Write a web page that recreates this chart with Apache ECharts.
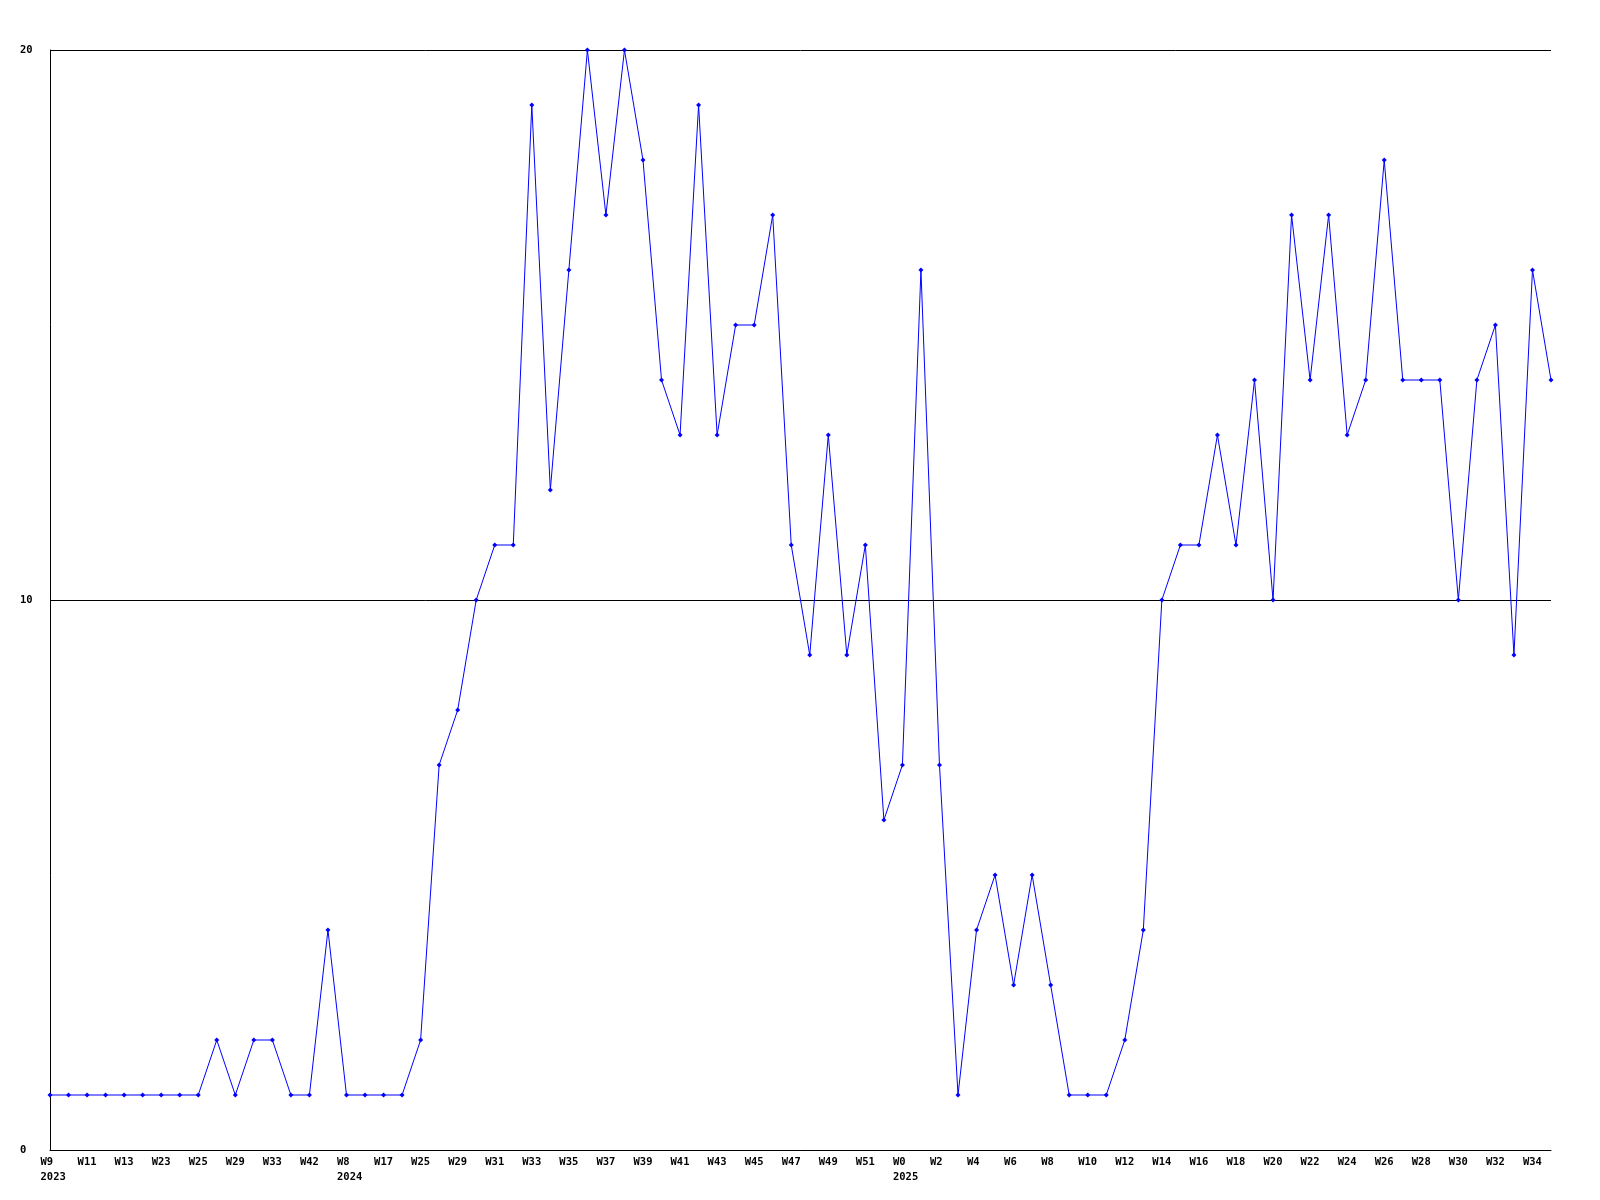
<!DOCTYPE html>
<html>
<head>
<meta charset="utf-8">
<script src="https://cdn.jsdelivr.net/npm/echarts@6/dist/echarts.min.js"></script>
<style>
html,body{margin:0;padding:0;background:#fff;}
#chart{width:1600px;height:1200px;}
</style>
</head>
<body>
<div id="chart"></div>
<script>
const weeks = [
  'W9','W10','W11','W12','W13','W22','W23','W24','W25','W27',
  'W29','W31','W33','W37','W42','W50','W8','W12','W17','W21',
  'W25','W27','W29','W30','W31','W32','W33','W34','W35','W36',
  'W37','W38','W39','W40','W41','W42','W43','W44','W45','W46',
  'W47','W48','W49','W50','W51','W52','W0','W1','W2','W3',
  'W4','W5','W6','W7','W8','W9','W10','W11','W12','W13',
  'W14','W15','W16','W17','W18','W19','W20','W21','W22','W23',
  'W24','W25','W26','W27','W28','W29','W30','W31','W32','W33',
  'W34','W35'
];
const yearLabels = {0:'2023', 16:'2024', 46:'2025'};
const values = [
  1,1,1,1,1,1,1,1,1,2,
  1,2,2,1,1,4,1,1,1,1,
  2,7,8,10,11,11,19,12,16,20,
  17,20,18,14,13,19,13,15,15,17,
  11,9,13,9,11,6,7,16,7,1,
  4,5,3,5,3,1,1,1,2,4,
  10,11,11,13,11,14,10,17,14,17,
  13,14,18,14,14,14,10,14,15,9,
  16,14
];
const yTicks = [0, 10, 20];

const font = 'DejaVu Sans Mono';
const chart = echarts.init(document.getElementById('chart'), null, {renderer:'canvas'});
chart.setOption({
  animation: false,
  backgroundColor: '#ffffff',
  grid: {left: 50, right: 49, top: 50, bottom: 50, containLabel: false},
  xAxis: {
    type: 'category',
    data: weeks,
    boundaryGap: false,
    axisLine: {show: true, lineStyle: {color: '#000', width: 1}},
    axisTick: {show: false},
    splitLine: {show: false},
    axisLabel: {
      interval: 1,
      margin: 5,
      align: 'center',
      color: '#000',
      fontFamily: font,
      fontWeight: 'bold',
      fontSize: 10.5,
      lineHeight: 15,
      formatter: function (v, i) {
        let s = '{a|' + v + '}';
        if (yearLabels[i]) s += '\n{a|' + yearLabels[i] + '}';
        return s;
      },
      rich: {
        a: {width: 19, align: 'left', color: '#000', fontFamily: font, fontWeight: 'bold', fontSize: 10.5, lineHeight: 15}
      }
    }
  },
  yAxis: {
    type: 'value',
    min: 0, max: 20, interval: 10,
    axisLine: {show: true, lineStyle: {color: '#000', width: 1}},
    axisTick: {show: false},
    splitLine: {show: true, lineStyle: {color: '#000', width: 1}},
    axisLabel: {
      margin: 30,
      align: 'left',
      color: '#000',
      fontFamily: font,
      fontWeight: 'bold',
      fontSize: 10.5,
      formatter: function (v) { return yTicks.indexOf(v) >= 0 ? String(v) : ''; }
    }
  },
  series: [{
    type: 'line',
    data: values,
    symbol: 'diamond',
    symbolSize: 5,
    showAllSymbol: true,
    lineStyle: {color: '#0000ff', width: 1},
    itemStyle: {color: '#0000ff'},
    emphasis: {disabled: true}
  }]
});
</script>
</body>
</html>
